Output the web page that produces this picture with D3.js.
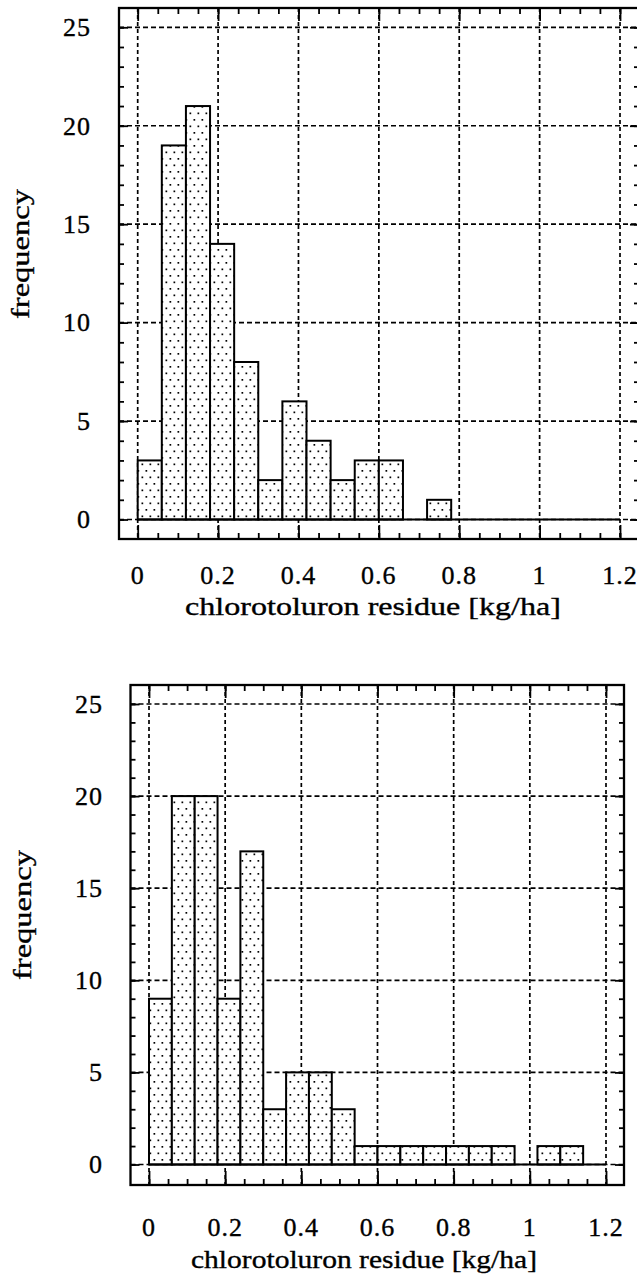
<!DOCTYPE html>
<html>
<head>
<meta charset="utf-8">
<script src="https://cdn.jsdelivr.net/npm/d3@7"></script>
<style>
  body { margin: 0; background: #fff; }
  svg { display: block; }
  text { font-family: "Liberation Serif", "Times New Roman", serif; fill: #000; stroke: #000; stroke-width: 0.35px; }
</style>
</head>
<body>
<svg id="chart"></svg>
<script>
  // histogram bins, width 0.06 kg/ha
  const binStarts = [0, 0.06, 0.12, 0.18, 0.24, 0.3, 0.36, 0.42, 0.48, 0.54,
                     0.6, 0.66, 0.72, 0.78, 0.84, 0.9, 0.96, 1.02, 1.08, 1.14];
  const binWidth = 0.06;
  const topCounts = [3, 19, 21, 14, 8, 2, 6, 4, 2, 3, 3, 0, 1, 0, 0, 0, 0, 0, 0, 0];
  const bottomCounts = [9, 20, 20, 9, 17, 3, 5, 5, 3, 1, 1, 1, 1, 1, 1, 1, 0, 1, 1, 0];

  const xTicks = [0, 0.2, 0.4, 0.6, 0.8, 1, 1.2];
  const xTickLabels = ["0", "0.2", "0.4", "0.6", "0.8", "1", "1.2"];
  const yTicks = [0, 5, 10, 15, 20, 25];
  const yTickLabels = ["0", "5", "10", "15", "20", "25"];
  const xMinor = [0, 0.05, 0.1, 0.15, 0.2, 0.25, 0.3, 0.35, 0.4, 0.45, 0.5, 0.55,
                  0.6, 0.65, 0.7, 0.75, 0.8, 0.85, 0.9, 0.95, 1, 1.05, 1.1, 1.15, 1.2];
  const yMinor = [0, 1, 2, 3, 4, 5, 6, 7, 8, 9, 10, 11, 12, 13, 14, 15, 16, 17,
                  18, 19, 20, 21, 22, 23, 24, 25];
  const xTitle = "chlorotoluron residue [kg/ha]";
  const yTitle = "frequency";

  const width = 637;
  const height = 1279;

  const svg = d3.select("#chart").attr("width", width).attr("height", height);

  // stipple fill like the printed figure
  const pat = svg.append("defs").append("pattern")
    .attr("id", "dots")
    .attr("patternUnits", "userSpaceOnUse")
    .attr("width", 8)
    .attr("height", 13);
  pat.append("rect").attr("width", 8).attr("height", 13).attr("fill", "#fff");
  pat.append("rect").attr("x", 1.5).attr("y", 2).attr("width", 1.7).attr("height", 1.7).attr("fill", "#000");
  pat.append("rect").attr("x", 5.5).attr("y", 8.5).attr("width", 1.7).attr("height", 1.7).attr("fill", "#000");

  function drawPanel(counts, p) {
    const g = svg.append("g");
    const x = d3.scaleLinear().domain([0, 1.2]).range([p.x0, p.x1]);
    const y = d3.scaleLinear().domain([0, 25]).range([p.y0, p.y25]);

    // dashed grid
    g.selectAll("line.vgrid")
      .data(xTicks)
      .join("line")
      .attr("class", "vgrid")
      .attr("x1", (d) => x(d))
      .attr("x2", (d) => x(d))
      .attr("y1", p.top)
      .attr("y2", p.bottom)
      .attr("stroke", "#000")
      .attr("stroke-width", 1.7)
      .attr("stroke-dasharray", "4,3");

    g.selectAll("line.hgrid")
      .data(yTicks)
      .join("line")
      .attr("class", "hgrid")
      .attr("x1", p.left)
      .attr("x2", p.right)
      .attr("y1", (d) => y(d))
      .attr("y2", (d) => y(d))
      .attr("stroke", "#000")
      .attr("stroke-width", 1.7)
      .attr("stroke-dasharray", "5,3");

    // bars
    const bins = binStarts.map((s, i) => ({ x0: s, x1: s + binWidth, n: counts[i] }));
    g.selectAll("rect.bar")
      .data(bins.filter((d) => d.n > 0))
      .join("rect")
      .attr("class", "bar")
      .attr("x", (d) => x(d.x0))
      .attr("y", (d) => y(d.n))
      .attr("width", (d) => x(d.x1) - x(d.x0))
      .attr("height", (d) => y(0) - y(d.n))
      .attr("fill", "url(#dots)")
      .attr("stroke", "#000")
      .attr("stroke-width", 2);

    // histogram baseline
    g.append("line")
      .attr("x1", x(0))
      .attr("x2", x(1.2))
      .attr("y1", y(0))
      .attr("y2", y(0))
      .attr("stroke", "#000")
      .attr("stroke-width", 2);

    // ticks on all four sides, pointing inward
    const tickAxes = [
      { ax: d3.axisBottom(x).tickValues(xMinor).tickSize(-6), t: `translate(0,${p.bottom})` },
      { ax: d3.axisBottom(x).tickValues(xTicks).tickSize(-14), t: `translate(0,${p.bottom})` },
      { ax: d3.axisTop(x).tickValues(xMinor).tickSize(-6), t: `translate(0,${p.top})` },
      { ax: d3.axisTop(x).tickValues(xTicks).tickSize(-13), t: `translate(0,${p.top})` },
      { ax: d3.axisLeft(y).tickValues(yMinor).tickSize(-5), t: `translate(${p.left},0)` },
      { ax: d3.axisLeft(y).tickValues(yTicks).tickSize(-9), t: `translate(${p.left},0)` },
      { ax: d3.axisRight(y).tickValues(yMinor).tickSize(-5), t: `translate(${p.right},0)` },
      { ax: d3.axisRight(y).tickValues(yTicks).tickSize(-9), t: `translate(${p.right},0)` },
    ];
    tickAxes.forEach((a) => {
      const ag = g.append("g").attr("transform", a.t).call(a.ax.tickFormat(""));
      ag.select(".domain").remove();
      ag.selectAll("line").attr("stroke", "#000").attr("stroke-width", 1.8);
    });

    // frame
    g.append("rect")
      .attr("x", p.left)
      .attr("y", p.top)
      .attr("width", p.right - p.left)
      .attr("height", p.bottom - p.top)
      .attr("fill", "none")
      .attr("stroke", "#000")
      .attr("stroke-width", 2.3);

    // tick labels
    g.selectAll("text.xl")
      .data(xTicks)
      .join("text")
      .attr("class", "xl")
      .attr("x", (d) => x(d))
      .attr("y", p.xLabelY)
      .attr("text-anchor", "middle")
      .attr("font-size", 26)
      .attr("letter-spacing", 1)
      .text((d, i) => xTickLabels[i]);

    g.selectAll("text.yl")
      .data(yTicks)
      .join("text")
      .attr("class", "yl")
      .attr("x", p.yLabelX)
      .attr("y", (d) => y(d))
      .attr("dy", "0.34em")
      .attr("text-anchor", "end")
      .attr("font-size", 26)
      .attr("letter-spacing", 1)
      .text((d, i) => yTickLabels[i]);

    // axis titles
    g.append("text")
      .attr("x", p.titleX)
      .attr("y", p.titleY)
      .attr("text-anchor", "middle")
      .attr("font-size", 26)
      .attr("textLength", p.titleLen)
      .attr("lengthAdjust", "spacingAndGlyphs")
      .text(xTitle);

    g.append("text")
      .attr("transform", `translate(${p.yTitleX},${p.yTitleY}) rotate(-90)`)
      .attr("text-anchor", "middle")
      .attr("font-size", 26)
      .attr("textLength", 130)
      .attr("lengthAdjust", "spacingAndGlyphs")
      .text(yTitle);
  }

  drawPanel(topCounts, {
    left: 119, top: 8, right: 639, bottom: 539,
    x0: 137.7, x1: 620, y0: 519.5, y25: 27.3,
    xLabelY: 584, yLabelX: 91,
    titleX: 373, titleY: 615, titleLen: 376,
    yTitleX: 29, yTitleY: 254,
  });

  drawPanel(bottomCounts, {
    left: 130.5, top: 685, right: 624, bottom: 1185,
    x0: 149, x1: 606, y0: 1164.5, y25: 704,
    xLabelY: 1236, yLabelX: 103,
    titleX: 364, titleY: 1268, titleLen: 346,
    yTitleX: 31, yTitleY: 915,
  });
</script>
</body>
</html>
